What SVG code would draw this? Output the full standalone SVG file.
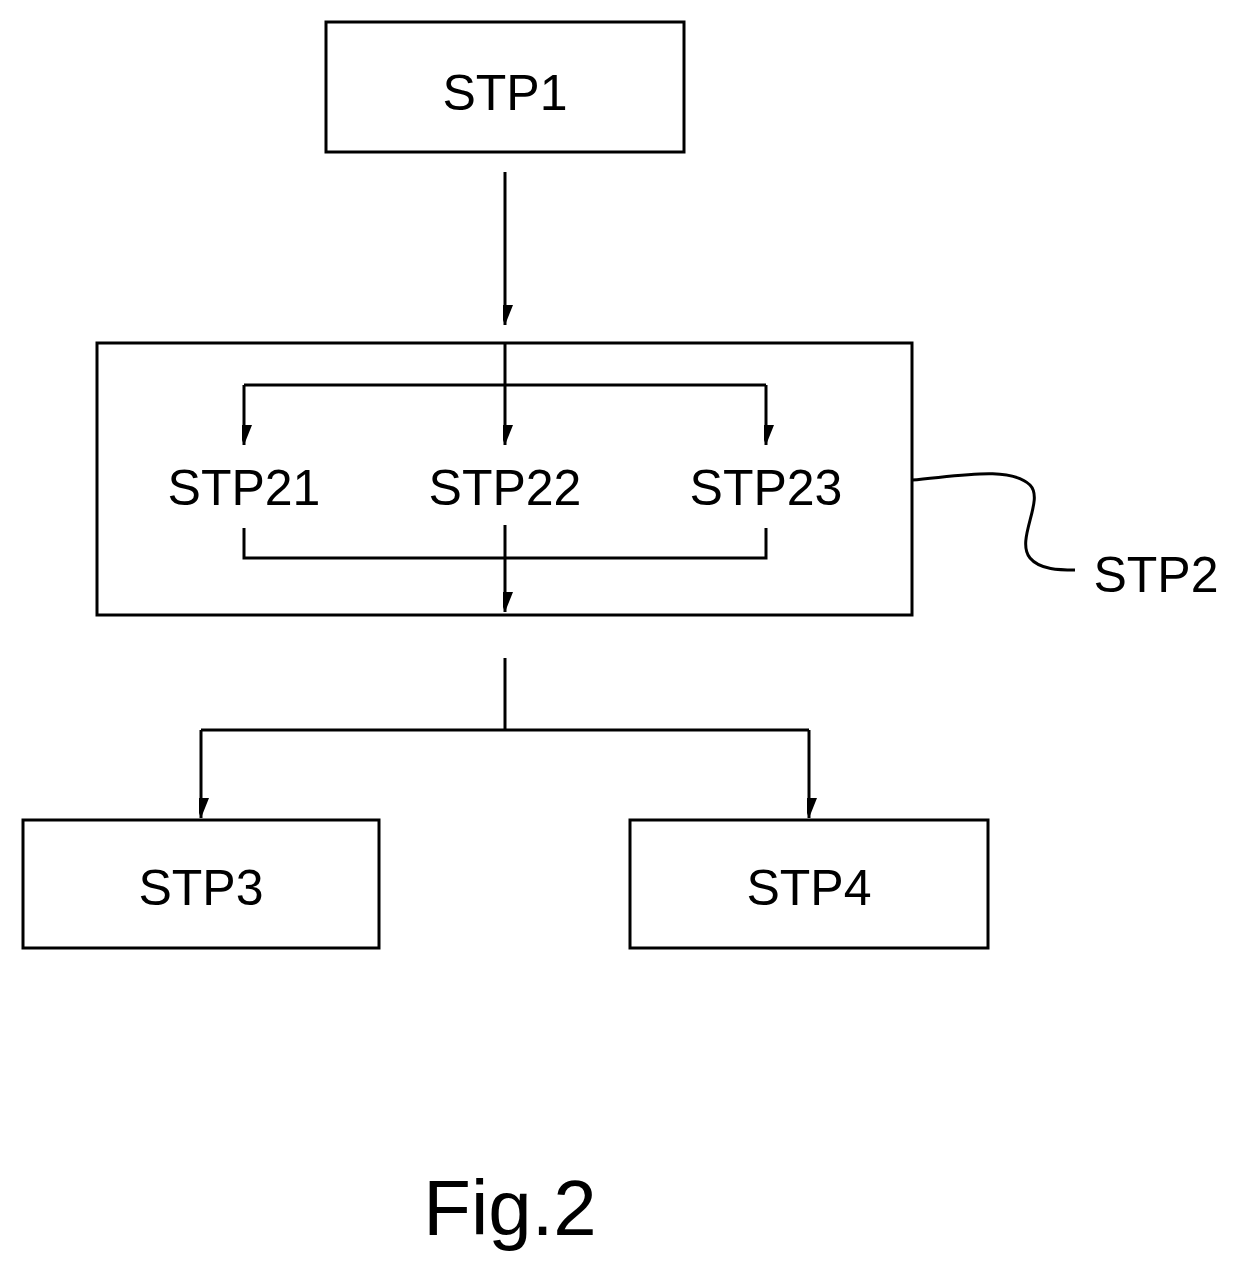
<svg xmlns="http://www.w3.org/2000/svg" width="1246" height="1277" viewBox="0 0 1246 1277">
<style>
.box{fill:#fff;stroke:#000;stroke-width:3}
.ln{fill:none;stroke:#000;stroke-width:3}
text{font-family:"Liberation Sans",Arial,sans-serif;font-size:50px;text-anchor:middle;fill:#000}
</style>
<defs>
<marker id="ah" markerUnits="userSpaceOnUse" markerWidth="40" markerHeight="44" viewBox="-20 -42 40 44" refX="0" refY="0" orient="auto-start-reverse">
<path d="M0,0 L-16,-40 L0,-30 L16,-40 Z" fill="#000" transform="rotate(-90)"/>
</marker>
</defs>
<rect x="0" y="0" width="1246" height="1277" fill="#fff"/>
<g id="stp1"><rect class="box" x="326" y="22" width="358" height="130"/><text x="505" y="110">STP1</text></g>
<g id="stp2"><rect class="box" x="97" y="343" width="815" height="272"/>
<text x="244" y="505">STP21</text><text x="505" y="505">STP22</text><text x="766" y="505">STP23</text>
<text x="1156" y="592">STP2</text></g>
<g id="stp3"><rect class="box" x="23" y="820" width="356" height="128"/><text x="201" y="905">STP3</text></g>
<g id="stp4"><rect class="box" x="630" y="820" width="358" height="128"/><text x="809" y="905">STP4</text></g>
<g id="connectors">
<path class="ln" d="M505,172 V325" marker-end="url(#ah)"/>
<path class="ln" d="M505,343 V445" marker-end="url(#ah)"/>
<path class="ln" d="M244,385 H766"/>
<path class="ln" d="M244,385 V445" marker-end="url(#ah)"/>
<path class="ln" d="M766,385 V445" marker-end="url(#ah)"/>
<path class="ln" d="M244,528 V558 H766 V528"/>
<path class="ln" d="M505,525 V612" marker-end="url(#ah)"/>
<path class="ln" d="M505,658 V730"/>
<path class="ln" d="M201,730 H809"/>
<path class="ln" d="M201,730 V818" marker-end="url(#ah)"/>
<path class="ln" d="M809,730 V818" marker-end="url(#ah)"/>
<path class="ln" d="M912,480 C960,476 1010,466 1030,485 C1045,500 1015,540 1030,558 C1040,570 1060,570 1075,570"/>
</g>
<text x="510" y="1235" style="font-size:78px">Fig.2</text>
</svg>
